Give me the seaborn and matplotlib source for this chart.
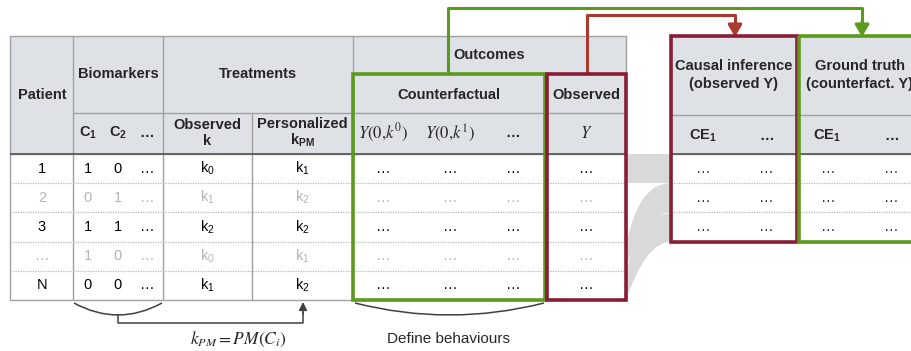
import matplotlib
matplotlib.use("Agg")
import matplotlib.pyplot as plt
import seaborn as sns
from matplotlib.patches import Rectangle, PathPatch
from matplotlib.path import Path

# ---------------- data ----------------
patients = ["1", "2", "3", "…", "N"]
biomarker_c1 = ["1", "0", "1", "1", "0"]
biomarker_c2 = ["0", "1", "1", "0", "0"]
observed_k = ["0", "1", "2", "0", "1"]
personalized_k = ["1", "2", "2", "1", "2"]
row_faded = [False, True, False, True, False]
counterfactual_cols = [r"$Y(0{,}k^0)$", r"$Y(0{,}k^1)$", "…"]
effect_rows = 3
header_top = ["Patient", "Biomarkers", "Treatments", "Outcomes"]
right_headers = ["Causal inference\n(observed Y)", "Ground truth\n(counterfact. Y)"]

# ---------------- style ----------------
sns.set_theme(style="white")
plt.rcParams["font.family"] = ["Liberation Sans", "DejaVu Sans"]
plt.rcParams["mathtext.fontset"] = "custom"
plt.rcParams["mathtext.rm"] = "Liberation Sans"
plt.rcParams["mathtext.it"] = "Liberation Serif:italic"
plt.rcParams["mathtext.bf"] = "Liberation Sans:bold"

GREEN = "#5b9a1c"
RED = "#8b1c36"
RED_LINE = "#a93a30"
HEAD = "#dee2e7"
GRID = "#a0a0a0"
FADE = "#b4b4b4"
BAND = "#d9d9d9"
FS = 10.5

fig = plt.figure(figsize=(9.12, 3.51), dpi=100)
ax = fig.add_axes([0, 0, 1, 1])
ax.set_xlim(0, 912)
ax.set_ylim(351, 0)
ax.axis("off")

# geometry
y_top, y_out, y_mid, y_hb = 36, 74, 113, 154
row_h = 29.2
rows_y = [y_hb + i * row_h for i in range(len(patients) + 1)]
x_left, x_pat, x_bio, x_obs, x_out, x_cf, x_right = 10, 73, 163, 252, 353, 546, 626
rx0, rx_mid, rx1 = 671, 798, 925

def line(xs, ys, **kw):
    ax.plot(xs, ys, solid_capstyle="butt", **kw)

# ---------------- flow bands ----------------
def band(xl, xr, yl0, yl1, yr0, yr1, k0=0.25, k1=0.45):
    w = xr - xl
    verts = [(xl, yl0), (xl + k0 * w, yr0), (xr, yr0),
             (xr, yr1), (xl + k1 * w, yr1), (xl, yl1), (xl, yl0)]
    codes = [Path.MOVETO, Path.CURVE3, Path.CURVE3,
             Path.LINETO, Path.CURVE3, Path.CURVE3, Path.CLOSEPOLY]
    ax.add_patch(PathPatch(Path(verts, codes), fc=BAND, ec="none", zorder=1))

ax.add_patch(Rectangle((x_right, rows_y[0]), rx0 - x_right, row_h, fc=BAND, ec="none", zorder=1))
band(x_right, rx0, 247, 266, rows_y[1], rows_y[2])
band(x_right, rx0, 274, 300, rows_y[2] + 1, rows_y[3])

# ---------------- left table ----------------
ax.add_patch(Rectangle((x_left, y_top), x_right - x_left, y_hb - y_top, fc=HEAD, ec=GRID, lw=1, zorder=2))
ax.add_patch(Rectangle((x_left, y_hb), x_right - x_left, rows_y[-1] - y_hb, fc="white", ec=GRID, lw=1, zorder=2))
for xv in (x_pat, x_bio, x_out):
    line([xv, xv], [y_top, rows_y[-1]], color=GRID, lw=1, zorder=3)
line([x_obs, x_obs], [y_mid, rows_y[-1]], color=GRID, lw=1, zorder=3)
line([x_pat, x_out], [y_mid, y_mid], color=GRID, lw=1, zorder=3)
line([x_out, x_right], [y_out, y_out], color=GRID, lw=1, zorder=3)
line([x_out, x_right], [y_mid, y_mid], color=GRID, lw=1, zorder=3)
for yv in rows_y[1:-1]:
    line([x_left, x_right], [yv, yv], color="#b8b8b8", lw=0.9, ls=(0, (1, 1)), zorder=3)
line([x_left, x_right], [y_hb, y_hb], color="#555555", lw=1.2, zorder=4)

ax.add_patch(Rectangle((x_out, y_out), x_cf - 1 - x_out, rows_y[-1] - y_out, fill=False, ec=GREEN, lw=2.6, zorder=6))
ax.add_patch(Rectangle((x_cf + 1, y_out), x_right - x_cf - 1, rows_y[-1] - y_out, fill=False, ec=RED, lw=2.6, zorder=6))

bold = dict(fontweight="bold", fontsize=FS, ha="center", va="center", zorder=7)
ax.text((x_left + x_pat) / 2 + 0.5, 95, header_top[0], **bold)
ax.text((x_pat + x_bio) / 2, 74, header_top[1], **bold)
ax.text(258, 74, header_top[2], **bold)
ax.text(489, 55, header_top[3], **bold)
ax.text(449, 95, "Counterfactual", **bold)
ax.text(586, 95, "Observed", **bold)
ax.text(88, 133, r"C$_\mathbf{1}$", **bold)
ax.text(118, 133, r"C$_\mathbf{2}$", **bold)
ax.text(147, 133, "…", **bold)
ax.text(207, 133, "Observed\nk", linespacing=1.1, **bold)
ax.text(302, 133, "Personalized\n" + r"k$_\mathbf{PM}$", linespacing=1.05, **bold)
for xc, lab in zip([383, 450], counterfactual_cols[:2]):
    ax.text(xc, 133, lab, fontsize=12, ha="center", va="center", math_fontfamily="stix", zorder=7)
ax.text(513, 133, counterfactual_cols[2], **bold)
ax.text(586, 133, r"$Y$", fontsize=12, ha="center", va="center", math_fontfamily="stix", zorder=7)

for i in range(len(patients)):
    yc = (rows_y[i] + rows_y[i + 1]) / 2
    col = FADE if row_faded[i] else "black"
    reg = dict(fontsize=FS, ha="center", va="center", color=col, zorder=7)
    ax.text(42, yc, patients[i], **reg)
    ax.text(88, yc, biomarker_c1[i], **reg)
    ax.text(118, yc, biomarker_c2[i], **reg)
    ax.text(147, yc, "…", **reg)
    ax.text(207, yc, "k$_{" + observed_k[i] + "}$", **reg)
    ax.text(302, yc, "k$_{" + personalized_k[i] + "}$", **reg)
    for xc in (383, 450, 513, 586):
        ax.text(xc, yc, "…", **reg)

# ---------------- right table ----------------
y_rmid = 115
ax.add_patch(Rectangle((rx0, y_top), rx1 - rx0, y_hb - y_top, fc=HEAD, ec=GRID, lw=1, zorder=2))
ax.add_patch(Rectangle((rx0, y_hb), rx1 - rx0, effect_rows * row_h, fc="white", ec=GRID, lw=1, zorder=2))
line([rx0, rx1], [y_rmid, y_rmid], color=GRID, lw=1, zorder=3)
for yv in rows_y[1:effect_rows]:
    line([rx0, rx1], [yv, yv], color="#b8b8b8", lw=0.9, ls=(0, (1, 1)), zorder=3)
line([rx0, rx1], [y_hb, y_hb], color="#555555", lw=1.2, zorder=4)
ax.add_patch(Rectangle((rx0, y_top), rx_mid - 1 - rx0, effect_rows * row_h + y_hb - y_top, fill=False, ec=RED, lw=2.6, zorder=6))
ax.add_patch(Rectangle((rx_mid + 1, y_top), rx1 - rx_mid, effect_rows * row_h + y_hb - y_top, fill=False, ec=GREEN, lw=2.6, zorder=6))
ax.text(734, 75, right_headers[0], linespacing=1.3, **bold)
ax.text(860, 75, right_headers[1], linespacing=1.3, **bold)
for xc, lab in zip([703, 767, 827, 892], [r"CE$_\mathbf{1}$", "…", r"CE$_\mathbf{1}$", "…"]):
    ax.text(xc, 136, lab, **bold)
for i in range(effect_rows):
    yc = (rows_y[i] + rows_y[i + 1]) / 2
    for xc in (703, 766, 828, 891):
        ax.text(xc, yc, "…", fontsize=FS, ha="center", va="center", zorder=7)

# ---------------- connectors ----------------
line([448, 448, 862, 862], [y_out, 8, 8, 24], color=GREEN, lw=2.2, zorder=5)
ax.annotate("", xy=(862, 37), xytext=(862, 22),
            arrowprops=dict(arrowstyle="-|>,head_width=0.35,head_length=0.6", color=GREEN, lw=2.2, shrinkA=0, shrinkB=0), zorder=5)
line([587, 587, 735, 735], [y_out, 15, 15, 26], color=RED_LINE, lw=2.2, zorder=5)
ax.annotate("", xy=(735, 37), xytext=(735, 24),
            arrowprops=dict(arrowstyle="-|>,head_width=0.35,head_length=0.6", color=RED_LINE, lw=2.2, shrinkA=0, shrinkB=0), zorder=5)

# ---------------- braces ----------------
def arc(x0, x1, y0, yc):
    p = Path([(x0, y0), ((x0 + x1) / 2, yc), (x1, y0)], [Path.MOVETO, Path.CURVE3, Path.CURVE3])
    ax.add_patch(PathPatch(p, fill=False, ec="#404040", lw=1.1, zorder=5))

arc(x_pat + 1, x_bio - 1, 303, 327)
line([118, 118, 303, 303], [315, 323, 323, 312], color="#404040", lw=1.1, zorder=5)
ax.annotate("", xy=(303, 302), xytext=(303, 314),
            arrowprops=dict(arrowstyle="-|>,head_width=0.2,head_length=0.4", color="#404040", lw=1.1, shrinkA=0, shrinkB=0))
ax.text(238, 339, r"$k_{PM} = PM(C_i)$", fontsize=12.5, ha="center", va="center", math_fontfamily="stix")

arc(x_out + 2, x_cf - 2, 303, 327)
ax.text(449, 339, "Define behaviours", fontsize=11, ha="center", va="center")

fig.savefig("out.png", dpi=100)
